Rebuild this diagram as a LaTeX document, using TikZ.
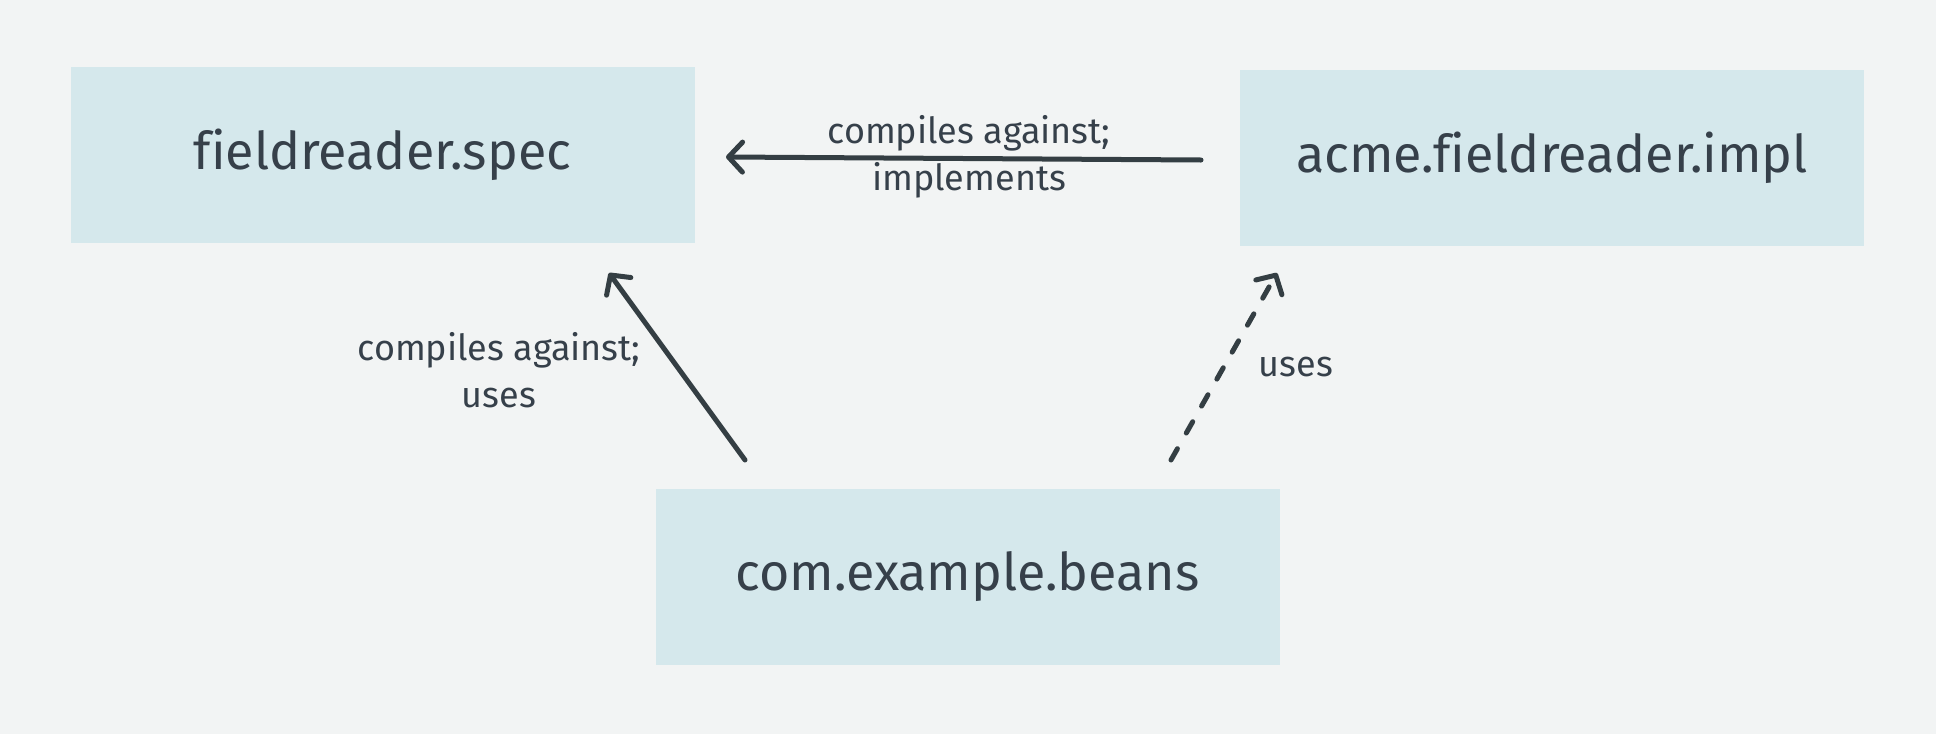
\documentclass[tikz,border=0pt]{standalone}
\usepackage{fontspec}
\setmainfont[Ligatures={NoCommon}]{Fira Sans}
\usetikzlibrary{arrows.meta}
\definecolor{bgc}{HTML}{F2F4F4}
\definecolor{boxc}{HTML}{D5E8EC}
\definecolor{txtc}{HTML}{36404A}
\definecolor{arrc}{HTML}{343E43}
\begin{document}
\begin{tikzpicture}[x=1pt,y=-1pt,
  pkg/.style={fill=boxc,draw=none,minimum width=624pt,minimum height=176pt,inner sep=0pt,text=txtc,font=\fontsize{52}{56}\selectfont},
  lbl/.style={text=txtc,align=center,font=\fontsize{36}{47}\selectfont,inner sep=0pt},
  conn/.style={draw=arrc,line width=5pt,line cap=round,-{Straight Barb[length=14pt,width=30pt,line cap=round,line join=round]}},
  dashconn/.style={conn,dash pattern=on 13pt off 18pt}]
\fill[bgc] (0,0) rectangle (1936,734);
\useasboundingbox (0,0) rectangle (1936,734);
\node[pkg] (spec) at (382.5,155) {fieldreader.spec};
\node[pkg] (impl) at (1552,158) {acme.fieldreader.impl};
\node[pkg] (beans) at (967.5,576.5) {com.example.beans};
\coordinate (h1) at (1201,160);
\coordinate (h2) at (726,157);
\coordinate (l1) at (745,460);
\coordinate (l2) at (609,273);
\coordinate (d1) at (1171,460);
\coordinate (d2) at (1277,273);
\draw[conn] (h1) -- (h2);
\draw[conn] (l1) -- (l2);
\draw[dashconn] (d1) -- (d2);
\node[lbl] (lh) at (969,157) {compiles against;\\implements};
\node[lbl] (ll) at (499,370) {compiles against;\\uses};
\node[lbl] (ld) at (1296,367) {uses};
\end{tikzpicture}
\end{document}
